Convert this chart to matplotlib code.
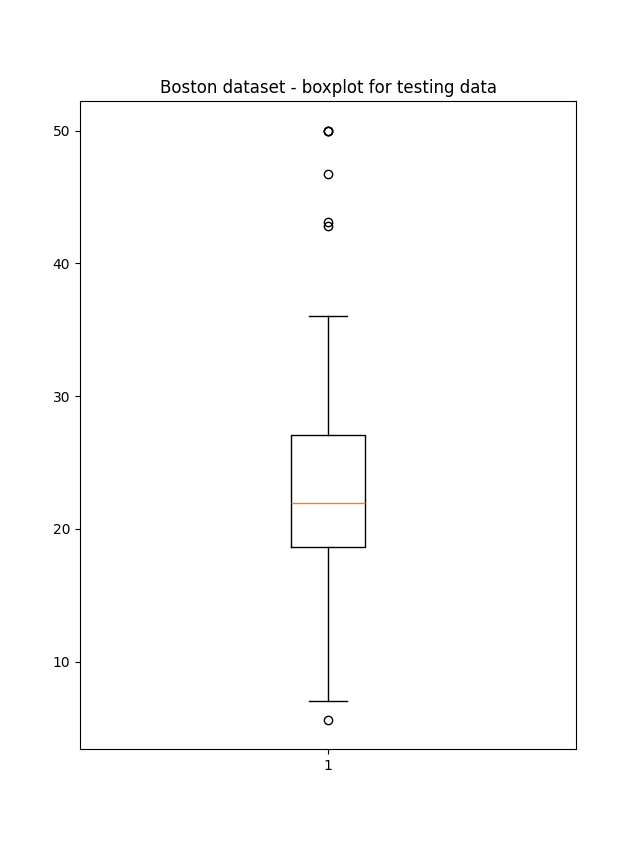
import matplotlib
matplotlib.use("Agg")
import matplotlib.pyplot as plt

# summary
labels = ["1"]
q1 = [18.65]
med = [21.95]
q3 = [27.05]
whislo = [7.0]
whishi = [36.0]
fliers = [[50.0, 50.0, 50.0, 46.7, 43.1, 42.8, 5.6]]

stats = []
for i in range(len(labels)):
    stats.append({"label": labels[i], "q1": q1[i], "med": med[i], "q3": q3[i],
                  "whislo": whislo[i], "whishi": whishi[i], "fliers": fliers[i]})

fig, ax = plt.subplots(figsize=(6.4, 8.42), dpi=100)
ax.bxp(stats)
ax.set_title("Boston dataset - boxplot for testing data")
fig.savefig("out.png")
